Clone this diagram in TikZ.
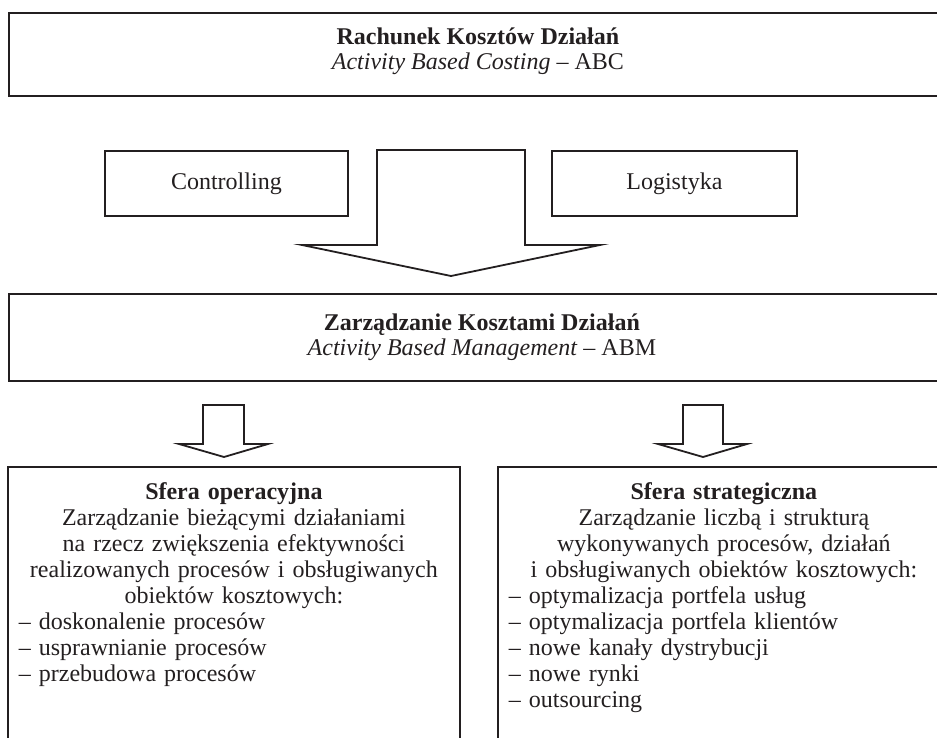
\documentclass[tikz,border=0pt]{standalone}
\usepackage{fontspec}
\setmainfont{Liberation Serif}
\usetikzlibrary{positioning}
\definecolor{inkblack}{RGB}{35, 31, 32}

\begin{document}
\begin{tikzpicture}[x=0.5pt, y=-0.5pt, font=\fontsize{12}{12.5}\selectfont, text=inkblack,
    box/.style={draw=inkblack, line width=0.9pt, inner sep=0pt, anchor=north west},
    boxtext/.style={text width=215pt, inner sep=0pt, align=left, font=\fontsize{12}{13}\selectfont},
    blockarrow/.style={draw=inkblack, line width=0.9pt, line join=miter}]
    \useasboundingbox (0,0) rectangle (937,738);
    \clip (0,0) rectangle (937,738);

    % ABC
    \node[box, minimum width=469pt, minimum height=41.5pt] (abc) at (8,12) {};
    \node[align=center, inner sep=0pt] (abctext) at ([yshift=1.5pt]abc.center)
      {\textbf{Rachunek Kosztów Działań}\\ \textit{Activity Based Costing} -- ABC};

    \node[box, minimum width=121.5pt, minimum height=32.5pt] (ctrl) at (104,150) {Controlling};
    \node[box, minimum width=122.5pt, minimum height=32.5pt] (logi) at (551,150) {Logistyka};

    \draw[blockarrow] (377,150) -- (525,150) -- (525,245) -- (600,245) -- (451,276)
      -- (302,245) -- (377,245) -- cycle;

    % ABM
    \node[box, minimum width=473pt, minimum height=43.5pt, align=center] (abm) at (8,293)
      {\textbf{Zarządzanie Kosztami Działań}\\ \textit{Activity Based Management} -- ABM};

    \draw[blockarrow] (203,405) -- (244,405) -- (244,444) -- (268,444) -- (224,457)
      -- (179,444) -- (203,444) -- cycle;
    \draw[blockarrow] (683,405) -- (723,405) -- (723,444) -- (747,444) -- (703,457)
      -- (658,444) -- (683,444) -- cycle;

    \node[box, minimum width=226pt, minimum height=150pt] (oper) at (7,466) {};
    \node[box, minimum width=226pt, minimum height=150pt] (strat) at (497,466) {};

    \node[boxtext, below=8pt of oper.north] (opertext)
      {{\centering\textbf{Sfera operacyjna}\\ Zarządzanie bieżącymi działaniami\\
        na rzecz zwiększenia efektywności\\ realizowanych procesów i obsługiwanych\\
        obiektów kosztowych:\par}
       -- doskonalenie procesów\\ -- usprawnianie procesów\\ -- przebudowa procesów};
    \node[boxtext, below=8pt of strat.north] (strattext)
      {{\centering\textbf{Sfera strategiczna}\\ Zarządzanie liczbą i strukturą\\
        wykonywanych procesów, działań\\ i obsługiwanych obiektów kosztowych:\par}
       -- optymalizacja portfela usług\\ -- optymalizacja portfela klientów\\
       -- nowe kanały dystrybucji\\ -- nowe rynki\\ -- outsourcing};
\end{tikzpicture}
\end{document}
